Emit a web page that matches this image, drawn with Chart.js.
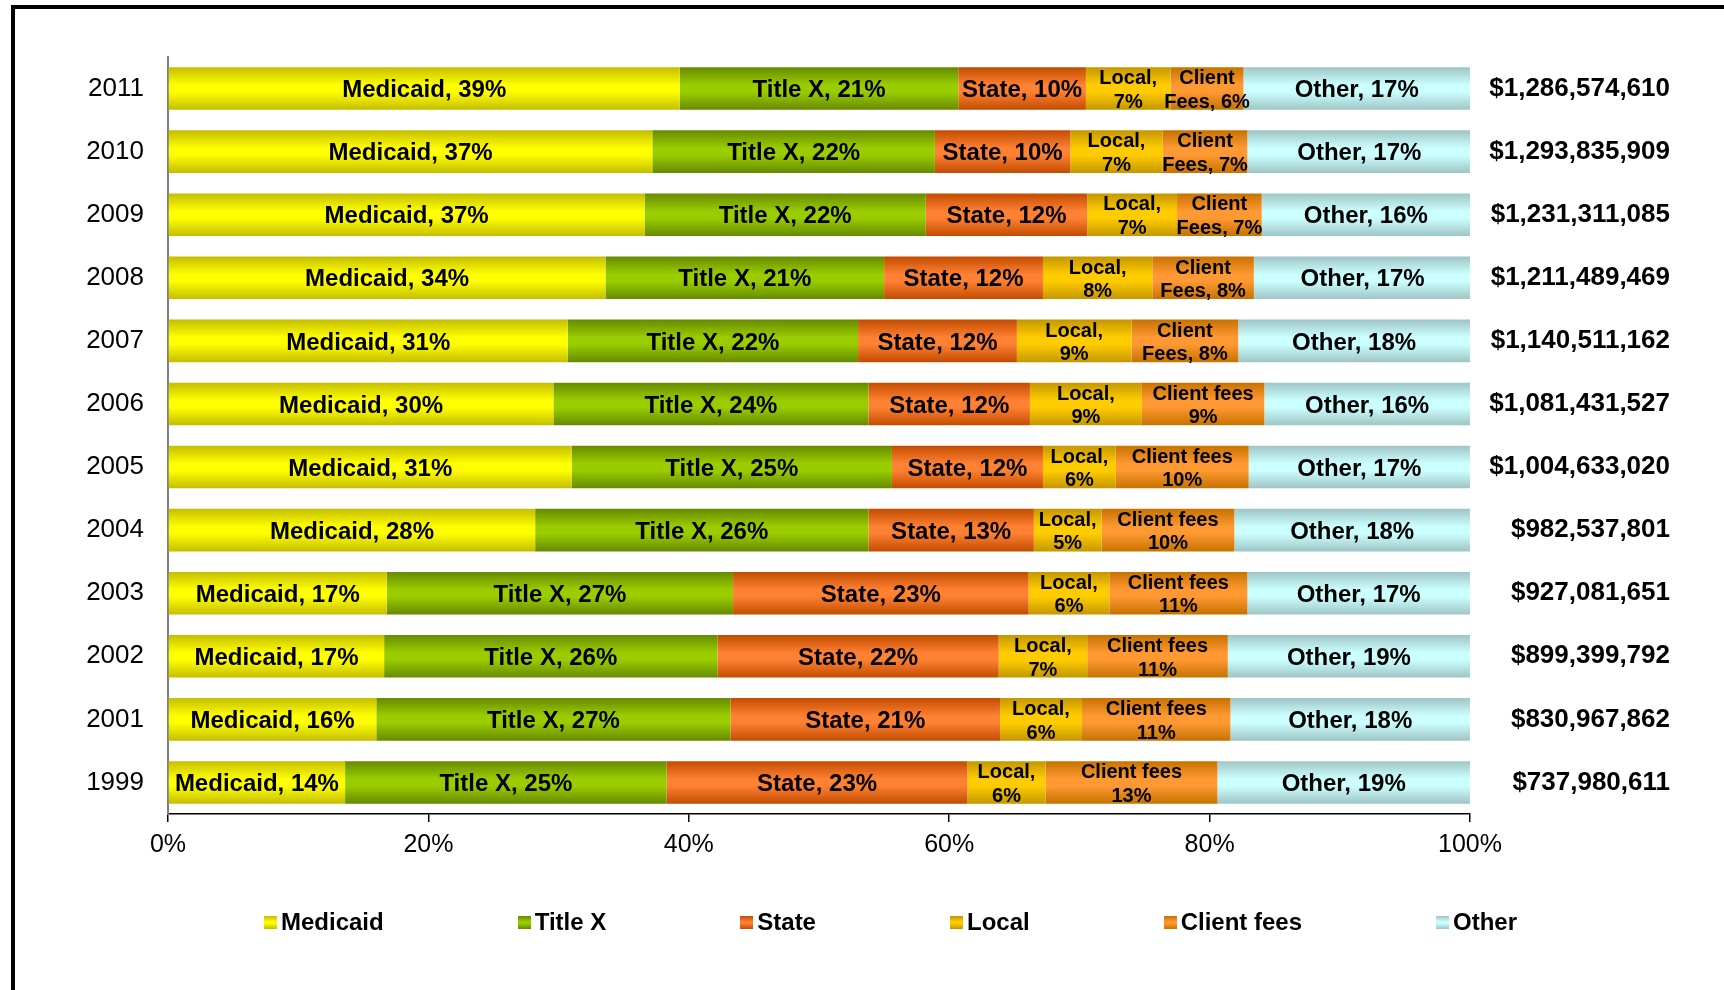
<!DOCTYPE html>
<html>
<head>
<meta charset="utf-8">
<script src="https://cdn.jsdelivr.net/npm/chart.js@4.4.1/dist/chart.umd.min.js"></script>
<style>
  html, body { margin: 0; padding: 0; background: #fff; overflow: hidden; }
  #wrap { position: relative; width: 1724px; height: 990px; }
  #frame {
    position: absolute; left: 11px; top: 5px; width: 1800px; height: 1100px;
    border-top: 4px solid #000; border-left: 4px solid #000;
  }
  #chart { position: absolute; left: 0; top: 0; }
  #legend {
    position: absolute; left: 264px; top: 908px; display: flex; gap: 134px;
    font: bold 24px "Liberation Sans", Arial, sans-serif; color: #000;
  }
  #legend .item { display: flex; align-items: center; line-height: 28px; }
  #legend .box { width: 13px; height: 13px; margin-right: 4px; }
</style>
</head>
<body>
<div id="wrap">
  <div id="frame"></div>
  <canvas id="chart" width="1724" height="990"></canvas>
  <div id="legend"></div>
</div>
<script>
// Categories, top to bottom
const years = ["2011", "2010", "2009", "2008", "2007", "2006", "2005", "2004", "2003", "2002", "2001", "1999"];

// Share of funding (%)
const medicaid   = [39.3, 37.2, 36.6, 33.6, 30.7, 29.6, 31.0, 28.2, 16.8, 16.6, 16.0, 13.6];
const titleX     = [21.4, 21.7, 21.6, 21.4, 22.3, 24.2, 24.6, 25.6, 26.6, 25.6, 27.2, 24.7];
const state      = [9.8, 10.4, 12.4, 12.2, 12.2, 12.4, 11.6, 12.7, 22.7, 21.6, 20.7, 23.1];
const local      = [6.5, 7.1, 6.9, 8.4, 8.8, 8.6, 5.6, 5.2, 6.2, 6.8, 6.3, 6.0];
const clientFees = [5.6, 6.5, 6.5, 7.8, 8.2, 9.4, 10.2, 10.2, 10.6, 10.8, 11.4, 13.2];
const other      = [17.4, 17.2, 16.0, 16.7, 17.8, 15.8, 17.0, 18.1, 17.1, 18.6, 18.4, 19.4];

// Total funding shown right of each bar
const totals = ["$1,286,574,610", "$1,293,835,909", "$1,231,311,085", "$1,211,489,469",
  "$1,140,511,162", "$1,081,431,527", "$1,004,633,020", "$982,537,801",
  "$927,081,651", "$899,399,792", "$830,967,862", "$737,980,611"];

const xTicks = [0, 20, 40, 60, 80, 100];

const BAR_PCT = 0.675;
const FONT = '"Liberation Sans", Arial, sans-serif';

// vertical "tube" gradient like the Excel fill
function barFill(dark, light) {
  return (c) => {
    const chart = c.chart;
    const yScale = chart.scales.y;
    if (!chart.chartArea || !yScale || c.dataIndex === undefined) return light;
    const y = yScale.getPixelForValue(c.dataIndex);
    const h = (yScale.height / years.length) * BAR_PCT;
    const g = chart.ctx.createLinearGradient(0, y - h / 2, 0, y + h / 2);
    g.addColorStop(0, dark);
    g.addColorStop(0.42, light);
    g.addColorStop(0.58, light);
    g.addColorStop(1, dark);
    return g;
  };
}

const series = [
  { label: "Medicaid", data: medicaid, dark: "#c4be00", light: "#ffff00" },
  { label: "Title X", data: titleX, dark: "#678a00", light: "#9acd00" },
  { label: "State", data: state, dark: "#c24c00", light: "#ff8133" },
  { label: "Local", data: local, dark: "#c59700", light: "#ffcc00" },
  { label: "Client fees", data: clientFees, dark: "#c77200", light: "#ff9933" },
  { label: "Other", data: other, dark: "#9fc5c5", light: "#ccffff" },
];

// text inside each segment
function segmentLabel(name, year, v) {
  const p = Math.round(v) + "%";
  if (name === "Local") return { size: 20, lines: ["Local,", p] };
  if (name === "Client fees") {
    if (+year >= 2007) return { size: 20, lines: ["Client", "Fees, " + p] };
    return { size: 20, lines: ["Client fees", p] };
  }
  return { size: 24, lines: [name + ", " + p] };
}

const segmentLabels = {
  id: "segmentLabels",
  afterDatasetsDraw(chart) {
    const ctx = chart.ctx;
    ctx.save();
    ctx.fillStyle = "#000";
    ctx.textAlign = "center";
    ctx.textBaseline = "middle";
    chart.data.datasets.forEach((ds, i) => {
      const meta = chart.getDatasetMeta(i);
      meta.data.forEach((bar, j) => {
        const { x, y, base } = bar.getProps(["x", "y", "base"], true);
        const cx = (x + base) / 2;
        const lab = segmentLabel(ds.label, years[j], ds.data[j]);
        ctx.font = "bold " + lab.size + "px " + FONT;
        const lh = 23.5;
        const y0 = y - ((lab.lines.length - 1) * lh) / 2;
        lab.lines.forEach((t, k) => ctx.fillText(t, cx, y0 + k * lh + 2));
      });
    });
    ctx.restore();
  },
};

const chart = new Chart(document.getElementById("chart"), {
  type: "bar",
  data: {
    labels: years,
    datasets: series.map((s) => ({
      label: s.label,
      data: s.data,
      backgroundColor: barFill(s.dark, s.light),
      borderWidth: 0,
      categoryPercentage: 1,
      barPercentage: BAR_PCT,
    })),
  },
  options: {
    indexAxis: "y",
    responsive: false,
    animation: false,
    layout: { padding: { top: 57, left: 68, right: 54, bottom: 126 } },
    plugins: {
      legend: { display: false },
      tooltip: { enabled: false },
    },
    scales: {
      x: {
        stacked: true,
        min: 0,
        max: 100,
        afterBuildTicks: (s) => { s.ticks = xTicks.map((v) => ({ value: v })); },
        afterFit: (s) => { s.height = 50; },
        grid: { drawOnChartArea: false, drawTicks: true, tickLength: 8, color: "#000", lineWidth: 1.5 },
        border: { color: "#000", width: 1.5 },
        ticks: {
          padding: 8,
          color: "#000",
          font: { family: FONT, size: 25 },
          callback: (v) => v + "%",
        },
      },
      y: {
        stacked: true,
        afterFit: (s) => { s.width = 100; },
        grid: { drawOnChartArea: false, drawTicks: false },
        border: { color: "#808080", width: 2 },
        ticks: { padding: 24, color: "#000", font: { family: FONT, size: 26 } },
      },
      y2: {
        type: "category",
        labels: totals,
        position: "right",
        offset: true,
        afterFit: (s) => { s.width = 200; },
        grid: { display: false, drawTicks: false },
        border: { display: false },
        ticks: { crossAlign: "far", padding: 0, color: "#000", font: { family: FONT, size: 26, weight: "bold" } },
      },
    },
  },
  plugins: [segmentLabels],
});

// legend below the plot
const legendEl = document.getElementById("legend");
legendEl.innerHTML = series
  .map(
    (s) => `
      <div class="item">
        <span class="box" style="background: linear-gradient(${s.dark}, ${s.light} 45%, ${s.light} 55%, ${s.dark})"></span>${s.label}
      </div>`
  )
  .join("");
</script>
</body>
</html>
